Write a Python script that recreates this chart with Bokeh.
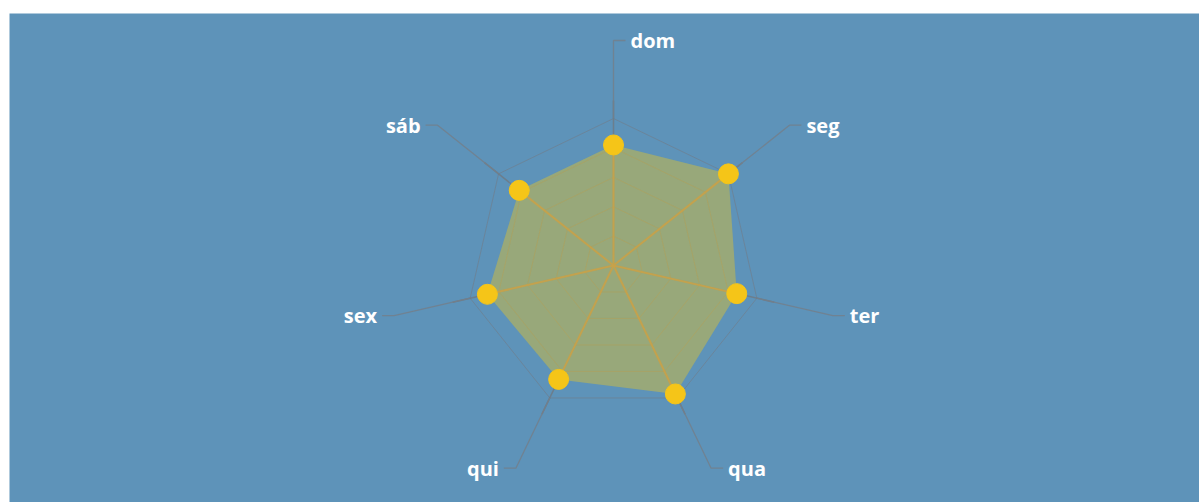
import numpy as np
from bokeh.plotting import figure
from bokeh.models import Range1d
from bokeh.core.properties import value
from bokeh.embed import file_html
from bokeh.resources import INLINE

# ---- data ----
labels = ["dom", "seg", "ter", "qua", "qui", "sex", "sáb"]
values = [82, 100, 86, 97, 86, 88, 82]
max_value = 100
levels = [20, 40, 60, 80, 100]

# ---- layout constants (pixels) ----
R = 147          # radius of outer ring
R_SPOKE = 165    # grey spoke end
R_ELBOW = 225    # leader elbow radius
H_LEN = 12       # horizontal part of leader
GAP = 5

BG = "#5e93b9"

p = figure(width=1199, height=502,
           x_range=Range1d(-604, 586), y_range=Range1d(-237, 252),
           output_backend="svg", toolbar_location=None,
           x_axis_type=None, y_axis_type=None,
           min_border_left=9, min_border_top=13, min_border_right=0, min_border_bottom=0,
           background_fill_color=BG, border_fill_color="white")
p.grid.visible = False
p.outline_line_color = None

n = len(labels)
theta = np.pi / 2 - np.arange(n) * 2 * np.pi / n
cos, sin = np.cos(theta), np.sin(theta)
scale = R / max_value

# grid rings
for lv in levels:
    r = lv * scale
    xs = list(r * cos) + [r * cos[0]]
    ys = list(r * sin) + [r * sin[0]]
    p.line(xs, ys, line_color="#6f7f8f", line_alpha=0.4 if lv < max_value else 0.7, line_width=1)

# grey spokes
p.multi_line([[0, R_SPOKE * c] for c in cos], [[0, R_SPOKE * s] for s in sin],
             line_color="#6f7a85", line_alpha=0.85, line_width=1.5)

# leader lines
lx, ly = [], []
for c, s in zip(cos, sin):
    ex, ey = R_ELBOW * c, R_ELBOW * s
    d = 1 if c >= -1e-9 else -1
    lx.append([R * c, ex, ex + d * H_LEN])
    ly.append([R * s, ey, ey])
p.multi_line(lx, ly, line_color="#737f8b", line_alpha=0.85, line_width=1.3)

# data polygon
vals = np.array(values, dtype=float)
px = vals * scale * cos
py = vals * scale * sin
p.patch(list(px), list(py), fill_color="#d2bd3b", fill_alpha=0.5, line_color=None)

# faint rings over the polygon
for lv in levels[:-1]:
    r = lv * scale
    xs = list(r * cos) + [r * cos[0]]
    ys = list(r * sin) + [r * sin[0]]
    p.line(xs, ys, line_color="#c9a24a", line_alpha=0.25, line_width=1)

# inner tan spokes to data points
p.multi_line([[0, x] for x in px], [[0, y] for y in py],
             line_color="#c9a24a", line_alpha=0.85, line_width=2)

# markers
p.scatter(px, py, size=20, fill_color="#f5c518", line_color="#f5c518")

# labels
rx, ry, rt, lx2, ly2, lt = [], [], [], [], [], []
for lab, c, s in zip(labels, cos, sin):
    ex, ey = R_ELBOW * c, R_ELBOW * s
    if c >= -1e-9:
        rx.append(ex + H_LEN + GAP); ry.append(ey); rt.append(lab)
    else:
        lx2.append(ex - H_LEN - GAP); ly2.append(ey); lt.append(lab)

p.text(rx, ry, text=rt, text_font=value("Open Sans"), text_font_size="20px",
       text_font_style="bold", text_color="white", text_align="left", text_baseline="middle")
p.text(lx2, ly2, text=lt, text_font=value("Open Sans"), text_font_size="20px",
       text_font_style="bold", text_color="white", text_align="right", text_baseline="middle")

open("out.html", "w").write(file_html(p, INLINE))
